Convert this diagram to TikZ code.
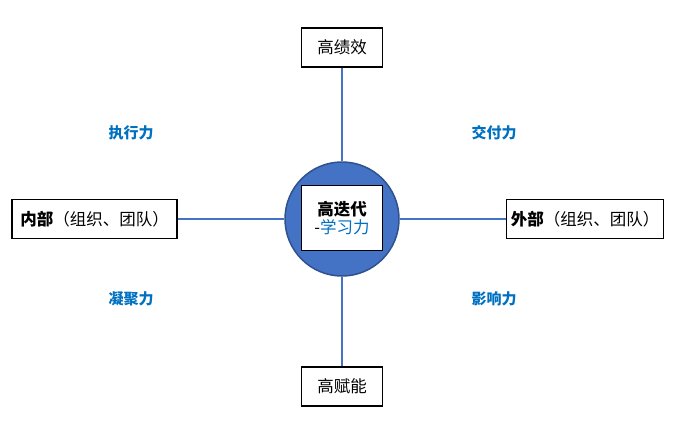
\documentclass[tikz,border=0pt]{standalone}
\usepackage{fontspec}
\usepackage{xcolor}
\newfontfamily\cjk{Noto Sans CJK SC}
\definecolor{lineblue}{HTML}{4472C4}
\definecolor{ringblue}{HTML}{2F528F}
\definecolor{textblue}{HTML}{0070C0}

\begin{document}
\begin{tikzpicture}[x=1pt,y=-1pt]
        \tikzset{box/.style = {shape=rectangle,draw,line width=1.2pt,fill=white,inner sep=0pt,minimum height=39,font=\cjk\fontsize{16.5}{19}\selectfont}}
        \tikzset{core/.style = {shape=circle,draw=ringblue,line width=1.5pt,fill=lineblue,minimum size=114,inner sep=0pt}}
        \tikzset{skill/.style = {font=\cjk\bfseries\fontsize{15}{18}\selectfont,text=textblue}}
        \tikzset{edge/.style = {line width=2.2pt, draw = lineblue}}
        \useasboundingbox (0,0) rectangle (675,424);
        % centre
        \node[core] (c) at (342,219) {};
        \node[box,minimum width=81,minimum height=65,align=center] (mid) at (342,218)
             {\bfseries 高迭代\\[-1pt]{\mdseries -\textcolor{textblue}{学习力}}};
        % boxes
        \node[box,minimum width=81] (top) at (342,47.5) {高绩效};
        \node[box,minimum width=81] (bottom) at (342,386.5) {高赋能};
        \node[box,minimum width=165] (left) at (94.5,219) {\textbf{内部}（组织、团队）};
        \node[box,minimum width=157] (right) at (585,219) {\textbf{外部}（组织、团队）};

        % edges
        \draw[edge] (top) to (c);
        \draw[edge] (c) to (bottom);
        \draw[edge] (left) to (c);
        \draw[edge] (c) to (right);

        % labels
        \node[skill] (s1) at (131,133) {执行力};
        \node[skill] (s2) at (494,133) {交付力};
        \node[skill] (s3) at (131,299) {凝聚力};
        \node[skill] (s4) at (494,299) {影响力};
\end{tikzpicture}
\end{document}
